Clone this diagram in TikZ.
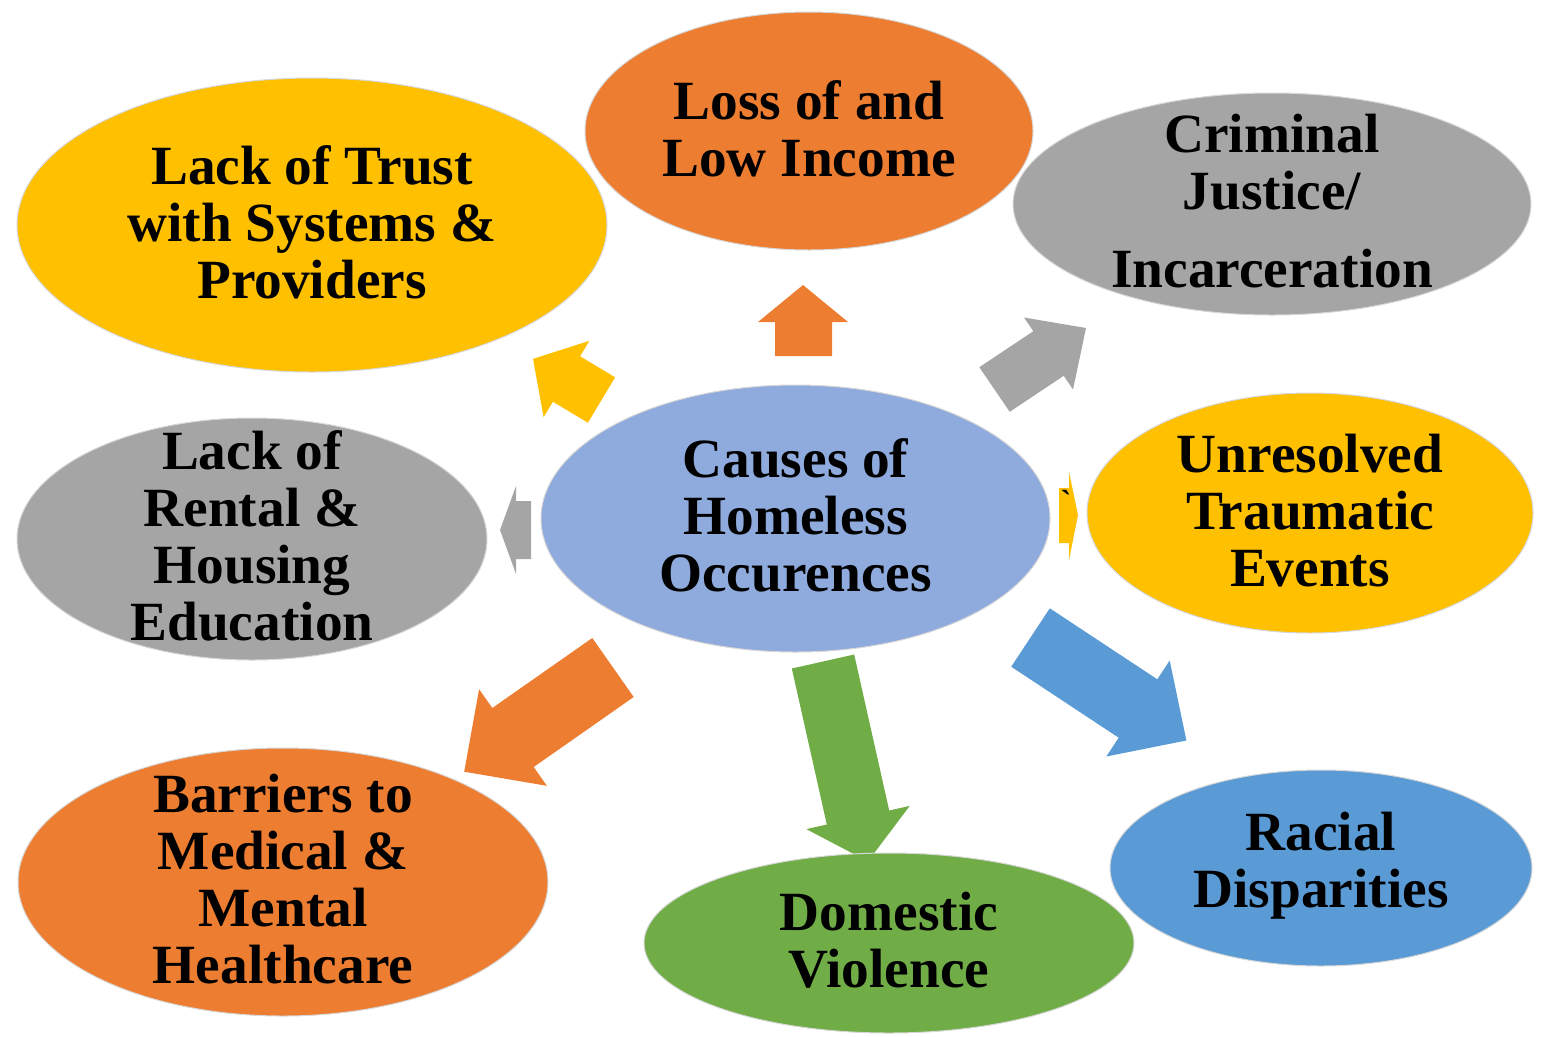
\documentclass[tikz,border=0pt]{standalone}
\usepackage{fontspec}
\setmainfont{Liberation Serif}
\usetikzlibrary{shapes.geometric}

\definecolor{cYellow}{HTML}{FFC000}
\definecolor{cOrange}{HTML}{ED7D31}
\definecolor{cGray}{HTML}{A5A5A5}
\definecolor{cLightBlue}{HTML}{8FAADC}
\definecolor{cGreen}{HTML}{70AD47}
\definecolor{cBlue}{HTML}{5B9BD5}

\tikzset{every picture/.style={line width=0.75pt}}
\tikzset{
	bubble/.style={ellipse, draw={rgb, 255:red, 215; green, 215; blue, 215 }, line width=0.75pt, inner sep=0pt},
	bubble size/.style 2 args={minimum width=#1*0.75pt, minimum height=#2*0.75pt},
	caption/.style={font=\bfseries\fontsize{41.5}{42.75}\selectfont, align=center, inner sep=0pt, yshift=2pt}}

\begin{document}
\begin{tikzpicture}[x=0.75pt,y=0.75pt,yscale=-1,xscale=1]
	\useasboundingbox (0,0) rectangle (1545,1036);

	%Shape: Block Arrows (under the bubbles)
	\fill [cYellow] (615.1,377.3) -- (580.1,356.3) -- (589.4,340.8) -- (533,358.9) -- (543.6,417.2) -- (552.9,401.7) -- (587.9,422.7) -- cycle ;
	\fill [cOrange] (832,356) -- (832,322) -- (848,322) -- (803,285) -- (758,322) -- (775,322) -- (775,356) -- cycle ;
	\fill [cGray] (1009.7,411.8) -- (1063.7,375.8) -- (1073,389.5) -- (1086,328) -- (1024,317.5) -- (1033.3,331.2) -- (979.3,367.2) -- cycle ;
	\fill [cGray] (531,501) -- (516,501) -- (516,486) -- (500,530) -- (516,574) -- (516,559) -- (531,559) -- cycle ;
	\fill [cYellow] (1059,488) -- (1069,488) -- (1069,472) -- (1078,515) -- (1069,560) -- (1069,543) -- (1059,543) -- cycle ;
	\fill [cOrange] (592.3,638) -- (492.3,708) -- (479.1,689.2) -- (464.2,771.7) -- (546.9,785.8) -- (533.7,767) -- (633.7,697) -- cycle ;
	\fill [cGreen] (791.8,668.5) -- (826.8,824.5) -- (806.3,829.1) -- (867.9,861.4) -- (909.7,805.9) -- (889.2,810.5) -- (854.2,654.5) -- cycle ;
	\fill [cBlue] (1011.2,666.7) -- (1118.7,737.7) -- (1106.3,756.5) -- (1186.4,740.5) -- (1169.7,660.5) -- (1157.3,679.3) -- (1049.8,608.3) -- cycle ;

	%Shape: Ellipses
	\node [bubble, bubble size={590}{294}, fill=cYellow] (trust) at (312,225) {};
	\node [bubble, bubble size={448}{238}, fill=cOrange] (income) at (809,131) {};
	\node [bubble, bubble size={518}{222}, fill=cGray] (justice) at (1272,204) {};
	\node [bubble, bubble size={470}{242}, fill=cGray] (rental) at (252,539) {};
	\node [bubble, bubble size={509}{267}, fill=cLightBlue] (causes) at (795.5,518.5) {};
	\node [bubble, bubble size={446}{240}, fill=cYellow] (trauma) at (1310,513) {};
	\node [bubble, bubble size={530}{268}, fill=cOrange] (barriers) at (283,882) {};
	\node [bubble, bubble size={490}{180}, fill=cGreen] (violence) at (889,943) {};
	\node [bubble, bubble size={422}{196}, fill=cBlue] (racial) at (1321,868) {};

	% Text Node
	\node [caption] (trust-t) at (trust) {Lack of Trust\\with Systems \&\\Providers};
	% Text Node
	\node [caption] (income-t) at (income) {Loss of and\\Low Income};
	% Text Node
	\node [caption] (justice-t) at (justice) {Criminal\\Justice/\\[16pt]Incarceration};
	% Text Node
	\node [caption] (rental-t) at (rental) {Lack of\\Rental \&\\Housing\\Education};
	% Text Node
	\node [caption] (causes-t) at (causes) {Causes of\\Homeless\\Occurences};
	% Text Node
	\node [caption] (trauma-t) at (trauma) {Unresolved\\Traumatic\\Events};
	% Text Node
	\node [caption] (barriers-t) at (barriers) {Barriers to\\Medical \&\\Mental\\Healthcare};
	% Text Node
	\node [caption] (violence-t) at (violence) {Domestic\\Violence};
	% Text Node
	\node [caption] (racial-t) at (racial) {Racial\\Disparities};
	% Text Node
	\node [font=\bfseries\fontsize{24}{24}\selectfont, inner sep=0pt] (tick) at (1066,501) {\textasciigrave};

\end{tikzpicture}
\end{document}
